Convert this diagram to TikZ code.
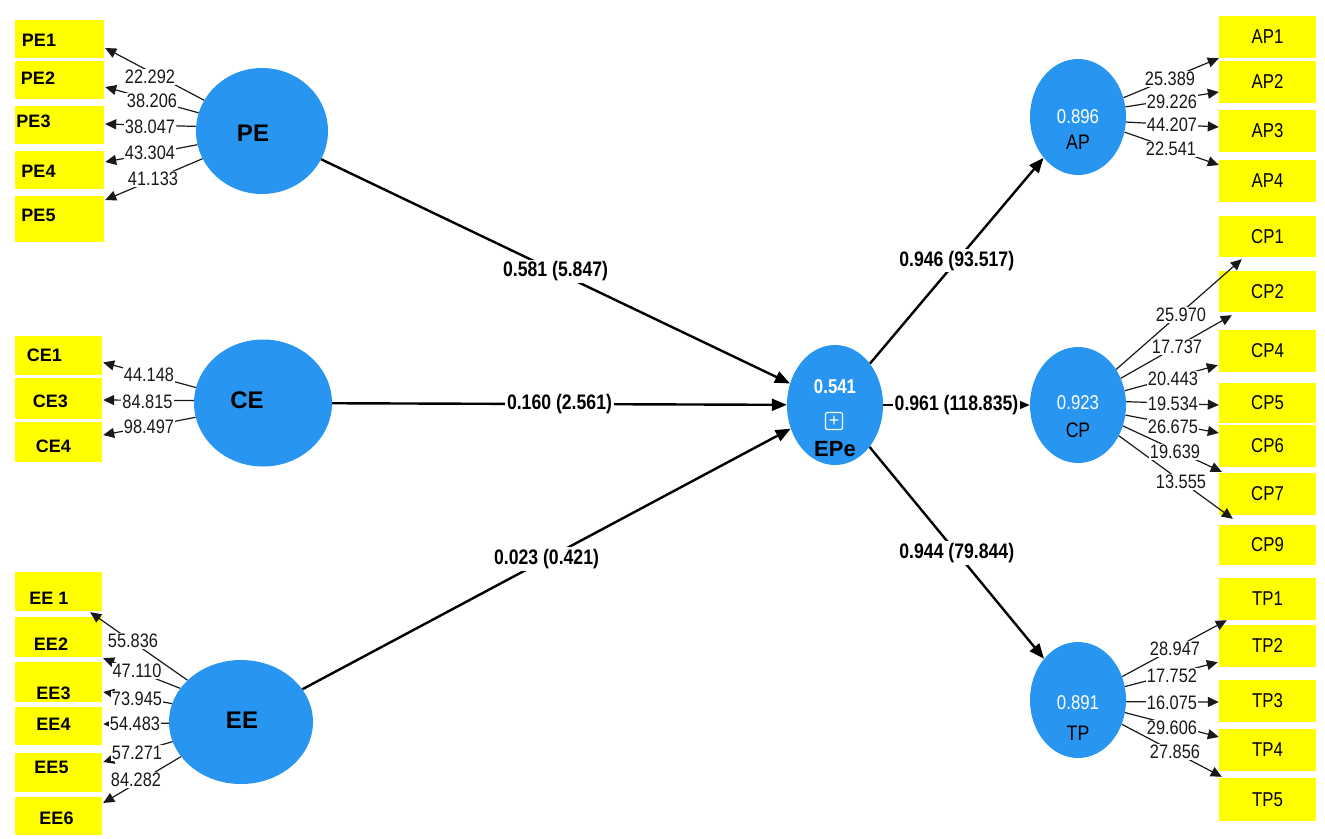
\documentclass[tikz,border=0pt]{standalone}
\usepackage{fontspec}
\setmainfont{Liberation Sans}
\newfontfamily\nar[FakeStretch=0.84]{Liberation Sans}
\usetikzlibrary{shapes.geometric,arrows.meta,calc}
\definecolor{lvblue}{RGB}{40,150,240}
\definecolor{ibox}{RGB}{255,255,0}
\begin{document}
\begin{tikzpicture}[x=1pt,y=-1pt,
  lv/.style={ellipse, fill=lvblue, draw=none, inner sep=0},
  lb/.style={rectangle, fill=ibox, inner sep=0},
  lbt/.style={inner sep=0, font=\bfseries\fontsize{18}{18}\selectfont},
  rb/.style={rectangle, fill=ibox, inner sep=0, minimum width=97pt, font=\nar\fontsize{20}{20}\selectfont},
  ld/.style={line width=1.2pt, draw=black!90, -{Triangle[length=11pt,width=10pt]}},
  pa/.style={line width=2.4pt, -{Triangle[length=15pt,width=12pt]}},
  nm/.style={fill=white, inner sep=1pt, font=\nar\fontsize{19.5}{19.5}\selectfont, text=black!90},
  pl/.style={fill=white, inner sep=2pt, font=\nar\bfseries\fontsize{21}{21}\selectfont},
  lt/.style={inner sep=0, font=\bfseries\fontsize{24}{24}\selectfont},
  vl/.style={inner sep=0, text=white, font=\nar\fontsize{20}{20}\selectfont},
  rt/.style={inner sep=0, font=\nar\fontsize{21}{21}\selectfont}
]
\useasboundingbox (0,0) rectangle (1325,838);

% ---------- left indicator boxes ----------
\node[lb, minimum width=89pt, minimum height=38pt] (PE1) at (59.5,39) {};
\node[lb, minimum width=89pt, minimum height=38pt] (PE2) at (59.5,80) {};
\node[lb, minimum width=89pt, minimum height=38pt] (PE3) at (59.5,125) {};
\node[lb, minimum width=89pt, minimum height=38pt] (PE4) at (59.5,170) {};
\node[lb, minimum width=89pt, minimum height=46pt] (PE5) at (59.5,219) {};
\node[lbt] (PE1t) at (39,40) {PE1};
\node[lbt] (PE2t) at (38,78) {PE2};
\node[lbt] (PE3t) at (33.5,121) {PE3};
\node[lbt] (PE4t) at (38.5,171) {PE4};
\node[lbt] (PE5t) at (38.5,215) {PE5};

\node[lb, minimum width=87pt, minimum height=39pt] (CE1) at (58.5,355.5) {};
\node[lb, minimum width=87pt, minimum height=41pt] (CE3) at (58.5,398.5) {};
\node[lb, minimum width=87pt, minimum height=40pt] (CE4) at (58.5,442) {};
\node[lbt] (CE1t) at (44.5,355) {CE1};
\node[lbt] (CE3t) at (50.5,401) {CE3};
\node[lbt] (CE4t) at (53.5,446) {CE4};

\node[lb, minimum width=87pt, minimum height=39pt] (EE1) at (58.5,591.5) {};
\node[lb, minimum width=87pt, minimum height=40pt] (EE2) at (58.5,637) {};
\node[lb, minimum width=87pt, minimum height=40pt] (EE3) at (58.5,682) {};
\node[lb, minimum width=87pt, minimum height=38pt] (EE4) at (58.5,726) {};
\node[lb, minimum width=87pt, minimum height=39pt] (EE5) at (58.5,772.5) {};
\node[lb, minimum width=87pt, minimum height=38pt] (EE6) at (58.5,816) {};
\node[lbt] (EE1t) at (49,598) {EE 1};
\node[lbt] (EE2t) at (51,644) {EE2};
\node[lbt] (EE3t) at (53.5,693) {EE3};
\node[lbt] (EE4t) at (53.5,724) {EE4};
\node[lbt] (EE5t) at (51.5,767) {EE5};
\node[lbt] (EE6t) at (56.5,818) {EE6};

% ---------- right indicator boxes ----------
\node[rb, minimum height=42pt] (AP1) at (1267.5,37) {AP1};
\node[rb, minimum height=42pt] (AP2) at (1267.5,82) {AP2};
\node[rb, minimum height=42pt] (AP3) at (1267.5,131) {AP3};
\node[rb, minimum height=42pt] (AP4) at (1267.5,181) {AP4};

\node[rb, minimum height=41pt] (CP1) at (1267.5,236.5) {CP1};
\node[rb, minimum height=41pt] (CP2) at (1267.5,291.5) {CP2};
\node[rb, minimum height=42pt] (CP4) at (1267.5,351) {CP4};
\node[rb, minimum height=40pt] (CP5) at (1267.5,403) {CP5};
\node[rb, minimum height=42pt] (CP6) at (1267.5,446) {CP6};
\node[rb, minimum height=42pt] (CP7) at (1267.5,494) {CP7};
\node[rb, minimum height=40pt] (CP9) at (1267.5,545) {CP9};

\node[rb, minimum height=42pt] (TP1) at (1267.5,599) {TP1};
\node[rb, minimum height=42pt] (TP2) at (1267.5,646) {TP2};
\node[rb, minimum height=42pt] (TP3) at (1267.5,701) {TP3};
\node[rb, minimum height=42pt] (TP4) at (1267.5,750) {TP4};
\node[rb, minimum height=43pt] (TP5) at (1267.5,799.5) {TP5};

% ---------- latent variables ----------
\node[lv, minimum width=132pt, minimum height=126pt] (PE) at (262,131) {};
\node[lv, minimum width=138pt, minimum height=127pt] (CE) at (263,403) {};
\node[lv, minimum width=144pt, minimum height=124pt] (EE) at (241,722) {};
\node[lv, minimum width=96pt, minimum height=120pt] (EPe) at (835,405) {};
\node[lv, minimum width=96pt, minimum height=116pt] (AP) at (1078,117) {};
\node[lv, minimum width=96pt, minimum height=116pt] (CP) at (1078,405) {};
\node[lv, minimum width=96pt, minimum height=116pt] (TP) at (1078,700) {};

\node[lt] (PEt) at (253,133) {PE};
\node[lt] (CEt) at (247,400) {CE};
\node[lt] (EEt) at (242,720) {EE};
\node[vl, font=\nar\bfseries\fontsize{20}{20}\selectfont] (EPev) at (835,387) {0.541};
\node[draw=white, line width=1.2pt, rounded corners=2pt, minimum size=17pt, inner sep=0,
      text=white, font=\fontsize{18}{18}\selectfont] (EPei) at (834,421) {+};
\node[inner sep=0, font=\bfseries\fontsize{22}{22}\selectfont] (EPet) at (835,449) {EPe};
\node[vl] (APv) at (1078,117) {0.896};
\node[rt] (APt) at (1078,142) {AP};
\node[vl] (CPv) at (1078,403) {0.923};
\node[rt] (CPt) at (1078,430) {CP};
\node[vl] (TPv) at (1078,703) {0.891};
\node[rt] (TPt) at (1078,733) {TP};

% ---------- structural paths ----------
\draw[pa] (PE) -- (EPe) node[pl, midway] (p1) {0.581 (5.847)};
\draw[pa] (CE) -- (EPe) node[pl, midway] (p2) {0.160 (2.561)};
\draw[pa] (EE) -- (EPe) node[pl, midway] (p3) {0.023 (0.421)};
\draw[pa] (EPe) -- (AP) node[pl, midway] (p4) {0.946 (93.517)};
\draw[pa] (EPe) -- (CP) node[pl, midway] (p5) {0.961 (118.835)};
\draw[pa] (EPe) -- (TP) node[pl, midway] (p6) {0.944 (79.844)};

% ---------- loadings PE ----------
\draw[ld] (PE.152) -- ($(PE1.east)+(1,9)$);
\draw[ld] (PE.164) -- ($(PE2.east)+(1,7)$);
\draw[ld] (PE.176) -- ($(PE3.east)+(1,-1)$);
\draw[ld] (PE.192) -- ($(PE4.east)+(1,-8)$);
\draw[ld] (PE.205) -- ($(PE5.east)+(1,-19)$);
\node[nm] (nPE1) at (150,77) {22.292};
\node[nm] (nPE2) at (152,101) {38.206};
\node[nm] (nPE3) at (150,127) {38.047};
\node[nm] (nPE4) at (150,153) {43.304};
\node[nm] (nPE5) at (153,179) {41.133};

% ---------- loadings CE ----------
\draw[ld] (CE.167) -- ($(CE1.east)+(1,7)$);
\draw[ld] (CE.178) -- ($(CE3.east)+(1,1.5)$);
\draw[ld] (CE.192) -- ($(CE4.east)+(1,-7)$);
\node[nm] (nCE1) at (149,375) {44.148};
\node[nm] (nCE3) at (147.5,402) {84.815};
\node[nm] (nCE4) at (149,427) {98.497};

% ---------- loadings EE ----------
\draw[ld] (EE.142) -- ($(EE1.south east)+(-12,1)$);
\draw[ld] (EE.151) -- ($(EE2.south east)+(1,1)$);
\draw[ld] (EE.165) -- ($(EE3.east)+(1,10)$);
\draw[ld] (EE.181) -- ($(EE4.east)+(1,-2)$);
\draw[ld] (EE.196) -- ($(EE5.east)+(1,-10.5)$);
\draw[ld] (EE.210) -- ($(EE6.east)+(1,-13)$);
\node[nm] (nEE1) at (133,641) {55.836};
\node[nm] (nEE2) at (137,671) {47.110};
\node[nm] (nEE3) at (137,699) {73.945};
\node[nm] (nEE4) at (135,724) {54.483};
\node[nm] (nEE5) at (137,753) {57.271};
\node[nm] (nEE6) at (136,780) {84.282};

% ---------- loadings AP ----------
\draw[ld] (AP.23) -- (AP1.south west);
\draw[ld] (AP.12) -- ($(AP2.west)+(0,10)$);
\draw[ld] (AP.354) -- ($(AP3.west)+(0,-4)$);
\draw[ld] (AP.342) -- ($(AP4.west)+(0,-16)$);
\node[nm] (nAP1) at (1170,79) {25.389};
\node[nm] (nAP2) at (1172,102) {29.226};
\node[nm] (nAP3) at (1172,125) {44.207};
\node[nm] (nAP4) at (1171,149) {22.541};

% ---------- loadings CP ----------
\draw[ld] (CP.43) -- ($(CP1.south west)+(23,2)$);
\draw[ld] (CP.32) -- ($(CP2.south west)+(13,3)$);
\draw[ld] (CP.17) -- ($(CP4.south west)+(-1,-7)$);
\draw[ld] (CP.4) -- ($(CP5.west)+(0,2)$);
\draw[ld] (CP.348) -- ($(CP6.west)+(0,-13)$);
\draw[ld] (CP.335) -- ($(CP7.north west)+(3,-1)$);
\draw[ld] (CP.323) -- ($(CP9.north west)+(14,-6)$);
\node[nm] (nCP1) at (1181,315) {25.970};
\node[nm] (nCP2) at (1177,347) {17.737};
\node[nm] (nCP4) at (1173,379) {20.443};
\node[nm] (nCP5) at (1173,404) {19.534};
\node[nm] (nCP6) at (1173,427) {26.675};
\node[nm] (nCP7) at (1175,452) {19.639};
\node[nm] (nCP9) at (1181,482) {13.555};

% ---------- loadings TP ----------
\draw[ld] (TP.28) -- ($(TP1.south west)+(8,0)$);
\draw[ld] (TP.16) -- ($(TP2.south west)+(-1,-5)$);
\draw[ld] (TP.358) -- ($(TP3.west)+(0,1)$);
\draw[ld] (TP.345) -- ($(TP4.west)+(0,-13)$);
\draw[ld] (TP.331) -- ($(TP5.north west)+(3,-1)$);
\node[nm] (nTP1) at (1175,649) {28.947};
\node[nm] (nTP2) at (1172,676) {17.752};
\node[nm] (nTP3) at (1172,703) {16.075};
\node[nm] (nTP4) at (1172,728) {29.606};
\node[nm] (nTP5) at (1175,752) {27.856};
\end{tikzpicture}
\end{document}
